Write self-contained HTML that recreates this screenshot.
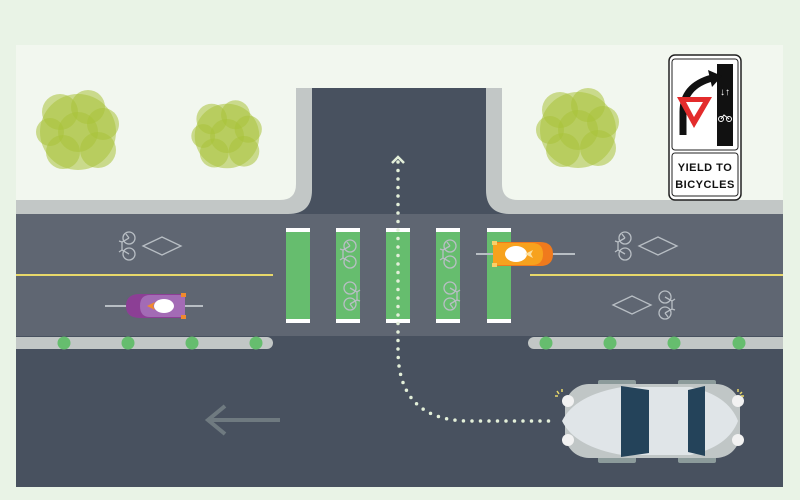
<!DOCTYPE html>
<html><head><meta charset="utf-8"><style>html,body{margin:0;padding:0;background:#e9f3e6}svg{display:block}</style></head>
<body>
<svg width="800" height="500" viewBox="0 0 800 500" xmlns="http://www.w3.org/2000/svg" font-family="Liberation Sans, sans-serif">
<defs>
<g id="bike" fill="none" stroke="#b8bec4" stroke-width="1.3">
<circle cx="0" cy="-8" r="6"/><circle cx="0" cy="8" r="6"/>
<path d="M0 -8 L-7 -4 L-7 4 L0 8 M-7 -4 L-10 -5 M-7 4 L-10 6 M0 -8 L-3 -12"/>
</g>
<g id="tree" fill="#a9c23a" fill-opacity="0.55">
<circle cx="0" cy="0" r="38"/><circle cx="-18" cy="-20" r="18"/><circle cx="10" cy="-25" r="17"/>
<circle cx="25" cy="-8" r="16"/><circle cx="20" cy="18" r="18"/><circle cx="-15" cy="20" r="17"/>
<circle cx="0" cy="0" r="20"/><circle cx="-28" cy="0" r="14"/>
</g>
</defs>
<rect width="800" height="500" fill="#e9f3e6"/>
<rect x="16" y="45" width="767" height="442" fill="#f2f7ef"/>
<path d="M16 200 H280 Q296 200 296 184 V88 H502 V184 Q502 200 518 200 H783 V215 H16 Z" fill="#c2c7c6"/>
<path d="M312 88 H486 V190 Q486 214 510 214 H288 Q312 214 312 190 Z" fill="#48515f"/>
<rect x="16" y="214" width="767" height="122" fill="#5f6672"/>
<rect x="16" y="336" width="767" height="151" fill="#48515f"/>
<rect x="16" y="274" width="257" height="2" fill="#e8d86a"/>
<rect x="530" y="274" width="253" height="2" fill="#e8d86a"/>
<rect x="16" y="337" width="257" height="12" rx="6" fill="#c2c7c6"/>
<rect x="16" y="337" width="10" height="12" fill="#c2c7c6"/>
<rect x="528" y="337" width="255" height="12" rx="6" fill="#c2c7c6"/>
<rect x="770" y="337" width="13" height="12" fill="#c2c7c6"/>
<g fill="#66bd6e"><circle cx="64" cy="343" r="6.5"/><circle cx="128" cy="343" r="6.5"/><circle cx="192" cy="343" r="6.5"/><circle cx="256" cy="343" r="6.5"/>
<circle cx="546" cy="343" r="6.5"/><circle cx="610" cy="343" r="6.5"/><circle cx="674" cy="343" r="6.5"/><circle cx="739" cy="343" r="6.5"/></g>
<g>
<rect x="286" y="228" width="24" height="95" fill="#66bd6e"/>
<rect x="336" y="228" width="24" height="95" fill="#66bd6e"/>
<rect x="386" y="228" width="24" height="95" fill="#66bd6e"/>
<rect x="436" y="228" width="24" height="95" fill="#66bd6e"/>
<rect x="487" y="228" width="24" height="95" fill="#66bd6e"/>
<g fill="#fff">
<rect x="286" y="228" width="24" height="4"/><rect x="336" y="228" width="24" height="4"/><rect x="386" y="228" width="24" height="4"/><rect x="436" y="228" width="24" height="4"/><rect x="487" y="228" width="24" height="4"/>
<rect x="286" y="319" width="24" height="4"/><rect x="336" y="319" width="24" height="4"/><rect x="386" y="319" width="24" height="4"/><rect x="436" y="319" width="24" height="4"/><rect x="487" y="319" width="24" height="4"/>
</g>
</g>
<g transform="translate(350,254)"><use href="#bike"/></g>
<g transform="translate(350,296) rotate(180)"><use href="#bike"/></g>
<g transform="translate(450,254)"><use href="#bike"/></g>
<g transform="translate(450,296) rotate(180)"><use href="#bike"/></g>
<use href="#bike" transform="translate(129,246)"/>
<polygon points="143,246 162,237 181,246 162,255" fill="none" stroke="#b8bec4" stroke-width="1.3"/>
<use href="#bike" transform="translate(625,246)"/>
<polygon points="639,246 658,237 677,246 658,255" fill="none" stroke="#b8bec4" stroke-width="1.3"/>
<polygon points="613,305 632,296 651,305 632,314" fill="none" stroke="#b8bec4" stroke-width="1.3"/>
<use href="#bike" transform="translate(665,305) rotate(180)"/>
<line x1="105" y1="306" x2="203" y2="306" stroke="#b8bec4" stroke-width="2"/>
<path d="M185 294 H140 Q126 294 126 306 Q126 318 140 318 H185 Z" fill="#8c3f95"/>
<path d="M185 295 H150 Q140 295 140 306 Q140 317 150 317 H185 Z" fill="#a36bb5"/>
<rect x="181" y="293" width="5" height="4" fill="#f08a2d"/><rect x="181" y="315" width="5" height="4" fill="#f08a2d"/>
<path d="M147 306 l8 -4 l-2 4 l2 4 z" fill="#f08a2d"/>
<ellipse cx="164" cy="306" rx="10" ry="7" fill="#fff"/>
<line x1="476" y1="254" x2="575" y2="254" stroke="#b8bec4" stroke-width="2"/>
<path d="M493 242 H540 Q553 242 553 254 Q553 266 540 266 H493 Z" fill="#f07a1d"/>
<path d="M493 243 H532 Q543 243 543 254 Q543 265 532 265 H493 Z" fill="#f7a21e"/>
<rect x="492" y="241" width="5" height="4" fill="#f7d06a"/><rect x="492" y="263" width="5" height="4" fill="#f7d06a"/>
<ellipse cx="516" cy="254" rx="11" ry="8" fill="#fff"/>
<path d="M525 254 l8 -4 l-2 4 l2 4 z" fill="#fbe0a0"/>
<path d="M398 162 V350 Q398 421 470 421 H552" fill="none" stroke="#e3efd9" stroke-width="3.5" stroke-linecap="round" stroke-dasharray="0 8.5"/>
<path d="M392 163 L398 157 L404 163" fill="none" stroke="#e3efd9" stroke-width="2.5"/>
<path d="M280 420 H210 M225 406 L208 420 L225 434" fill="none" stroke="#6f7a80" stroke-width="4"/>
<use href="#tree" transform="translate(78,132)"/>
<use href="#tree" transform="translate(227,136) scale(0.85)"/>
<use href="#tree" transform="translate(578,130)"/>
<rect x="598" y="380" width="38" height="8" rx="2" fill="#8c9b9b"/>
<rect x="678" y="380" width="38" height="8" rx="2" fill="#8c9b9b"/>
<rect x="598" y="455" width="38" height="8" rx="2" fill="#8c9b9b"/>
<rect x="678" y="455" width="38" height="8" rx="2" fill="#8c9b9b"/>
<rect x="565" y="384" width="175" height="74" rx="24" fill="#c0c6c6"/>
<circle cx="568" cy="401" r="6" fill="#f2f2f2"/><circle cx="568" cy="440" r="6" fill="#f2f2f2"/>
<circle cx="738" cy="401" r="6" fill="#f2f2f2"/><circle cx="738" cy="440" r="6" fill="#f2f2f2"/>
<path d="M622 387 Q575 395 562 421 Q575 447 622 455 H690 Q728 447 738 421 Q728 395 690 387 Z" fill="#e0e5e8"/>
<path d="M621 386 L649 390 V453 L621 457 Z" fill="#24435a"/>
<path d="M688 390 L705 386 V456 L688 452 Z" fill="#24435a"/>
<g stroke="#e8d86a" stroke-width="1.5"><path d="M557 391 l2 3 M562 389 l0 3 M555 396 l3 0"/><path d="M738 389 l0 3 M742 392 l-2 2 M744 396 l-3 0"/></g>
<rect x="669" y="55" width="72" height="145" rx="6" fill="#fff" stroke="#222" stroke-width="1.5"/>
<rect x="672" y="59" width="66" height="91" rx="3" fill="#fff" stroke="#222" stroke-width="1"/>
<rect x="672" y="153" width="66" height="43" rx="3" fill="#fff" stroke="#222" stroke-width="1"/>
<rect x="717" y="64" width="16" height="82" fill="#111"/>
<path d="M683 135 V112 Q683 86 712 78" fill="none" stroke="#111" stroke-width="7"/>
<path d="M708 70 L722 76 L712 87 Z" fill="#111"/>
<polygon points="677,97 712,97 694,128" fill="#e32b2b"/>
<polygon points="686,102 703,102 694,117" fill="#fff"/>
<text x="725" y="95" font-size="10" fill="#fff" text-anchor="middle" font-weight="bold">↓↑</text>
<g fill="none" stroke="#fff" stroke-width="1"><circle cx="721" cy="119" r="2.5"/><circle cx="729" cy="119" r="2.5"/><path d="M721 119 L724 115 L729 119"/></g>
<text x="705" y="171" font-size="11" font-weight="bold" text-anchor="middle" fill="#111" letter-spacing="0.5">YIELD TO</text>
<text x="705" y="188" font-size="11" font-weight="bold" text-anchor="middle" fill="#111" letter-spacing="0.5">BICYCLES</text>
</svg>
</body></html>
